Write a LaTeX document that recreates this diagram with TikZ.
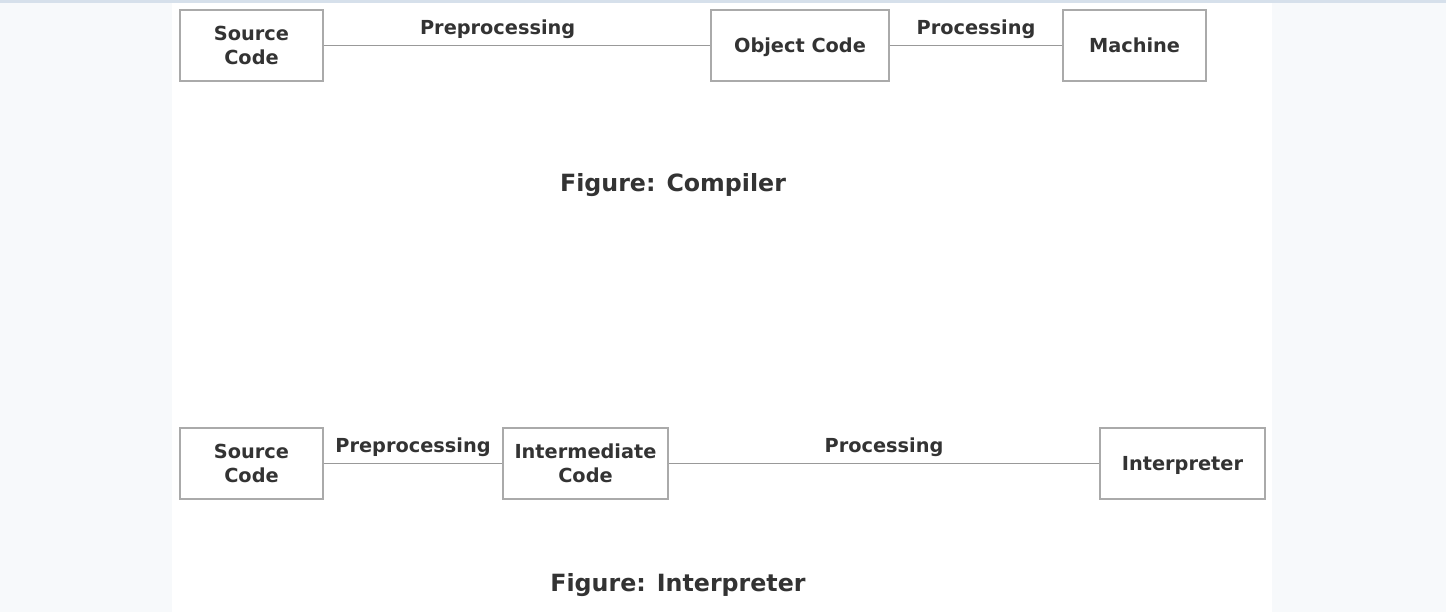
\documentclass[tikz,border=0pt]{standalone}
\usepackage{fontspec}
\setmainfont{DejaVu Sans}
\definecolor{fond}{HTML}{F7F9FB}
\definecolor{bande}{HTML}{D6E0EB}
\definecolor{trait}{HTML}{999999}
\definecolor{cadre}{HTML}{AAAAAA}
\definecolor{texte}{HTML}{333333}

\begin{document}
\begin{tikzpicture}  % ------ Compilateur et interpreteur ---------------
      [x=0.02cm,y=-0.02cm,
       boite/.style={draw=cadre,line width=0.8pt,fill=white,minimum height=1.42cm,
                     inner sep=0pt,align=center,text=texte,
                     font=\bfseries\fontsize{11}{13.6}\selectfont},
       seule/.style={text depth=0pt},
       lien/.style={draw=trait,line width=0.7pt},
       etiq/.style={text=texte,font=\bfseries\fontsize{11}{13.6}\selectfont,above=0pt},
       legende/.style={text=texte,font=\bfseries\fontsize{13.5}{16}\selectfont}]
    \useasboundingbox (0,0) rectangle (1446,612);
    \fill[fond] (0,0) rectangle (1446,612);
    \fill[white] (172,3) rectangle (1272,612);
    \fill[bande] (0,0) rectangle (1446,3);

    \coordinate (C1) at (251.5,45.5);
    \coordinate (C2) at (800,45.5);
    \coordinate (C3) at (1134.5,45.5);

    \coordinate (I1) at (251.5,463.5);
    \coordinate (I2) at (585.5,463.5);
    \coordinate (I3) at (1182.5,463.5);

    % compilateur
    \node[boite,minimum width=2.86cm] (source1) at (C1) {Source\\Code};
    \node[boite,seule,minimum width=3.56cm] (objet) at (C2) {Object Code};
    \node[boite,seule,minimum width=2.86cm] (machine) at (C3) {Machine};
    \draw[lien] (source1) -- node[etiq,pos=.45] (pre1) {Preprocessing} (objet);
    \draw[lien] (objet) -- node[etiq] (proc1) {Processing} (machine);
    \node[legende] (fig1) at (673,185) {Figure: Compiler};

    % interpreteur
    \node[boite,minimum width=2.86cm] (source2) at (I1) {Source\\Code};
    \node[boite,minimum width=3.3cm] (inter) at (I2) {Intermediate\\Code};
    \node[boite,seule,minimum width=3.3cm] (interp) at (I3) {Interpreter};
    \draw[lien] (source2) -- node[etiq] (pre2) {Preprocessing} (inter);
    \draw[lien] (inter) -- node[etiq] (proc2) {Processing} (interp);
    \node[legende] (fig2) at (678,585) {Figure: Interpreter};
\end{tikzpicture}
\end{document}
